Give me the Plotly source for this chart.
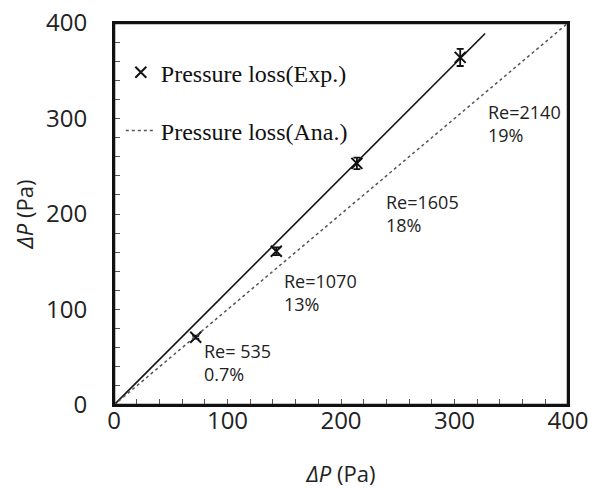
import plotly.graph_objects as go

# Experimental pressure loss points (x: analytical ΔP, y: measured ΔP), Pa
exp_x = [72, 143, 214, 305]
exp_y = [71, 161, 253, 364]
exp_err = [1.5, 4, 6, 9]

# Fitted line through the experimental data
fit_x = [0, 327]
fit_y = [0, 389]

# Analytical line (y = x)
ana_x = [0, 400]
ana_y = [0, 400]

# Annotation labels
ann_text = ["Re= 535<br>0.7%", "Re=1070<br>13%", "Re=1605<br>18%", "Re=2140<br>19%"]
ann_x = [77.5, 148, 238, 327.5]
ann_y = [45, 118, 201, 295]

fig = go.Figure()

fig.add_trace(go.Scatter(
    x=fit_x, y=fit_y, mode="lines",
    line=dict(color="#111111", width=1.6),
    showlegend=False, hoverinfo="skip"))

fig.add_trace(go.Scatter(
    x=exp_x, y=exp_y, mode="markers", name="Pressure loss(Exp.)",
    marker=dict(symbol="x-thin", size=11, color="#111111",
                line=dict(color="#111111", width=2)),
    error_y=dict(type="data", array=exp_err, visible=True,
                 color="#111111", thickness=1.8, width=3.5),
    legendgroup="g1"))

fig.add_trace(go.Scatter(
    x=ana_x, y=ana_y, mode="lines", name="Pressure loss(Ana.)",
    line=dict(color="#555555", width=1.5, dash="dot"),
    legendgroup="g2"))

for t, xx, yy in zip(ann_text, ann_x, ann_y):
    fig.add_annotation(x=xx, y=yy, text=t, showarrow=False,
                       xanchor="left", yanchor="middle", align="left",
                       font=dict(family="Open Sans", size=18, color="#222222"))

axis_common = dict(
    range=[0, 400], dtick=100, tick0=0,
    ticks="inside", ticklen=6, tickwidth=1, tickcolor="#555555",
    minor=dict(dtick=20, ticks="inside", ticklen=6, tickwidth=1, tickcolor="#555555"),
    showline=True, linecolor="#111111", linewidth=2, mirror=True,
    showgrid=False, zeroline=False, automargin=False,
    tickfont=dict(family="Open Sans", size=24, color="#222222"),
    fixedrange=True,
)

fig.add_shape(type="rect", xref="paper", yref="paper", x0=0, y0=0, x1=1, y1=1,
              line=dict(color="#111111", width=2.5), fillcolor="rgba(0,0,0,0)", layer="above")

fig.update_layout(
    width=589, height=488,
    margin=dict(l=114, r=21, t=23, b=83, autoexpand=False),
    paper_bgcolor="white", plot_bgcolor="white",
    xaxis=dict(**axis_common, ticklabelstandoff=-7,
               title=dict(text="<i>ΔP</i> (Pa)", standoff=40,
                          font=dict(family="Open Sans", size=22, color="#222222"))),
    yaxis=dict(**axis_common, ticklabelstandoff=20,
               title=dict(text="<i>ΔP</i> (Pa)", standoff=6,
                          font=dict(family="Open Sans", size=22, color="#222222"))),
    legend=dict(x=0.015, y=0.929, xanchor="left", yanchor="top",
                bgcolor="rgba(0,0,0,0)", traceorder="grouped", tracegroupgap=24,
                font=dict(family="Liberation Serif", size=24, color="#111111")),
    showlegend=True,
)

fig.write_html("out.html",
               config={"displayModeBar": False, "staticPlot": True},
               post_script="document.body.style.margin='0px';document.body.style.overflow='hidden';")
